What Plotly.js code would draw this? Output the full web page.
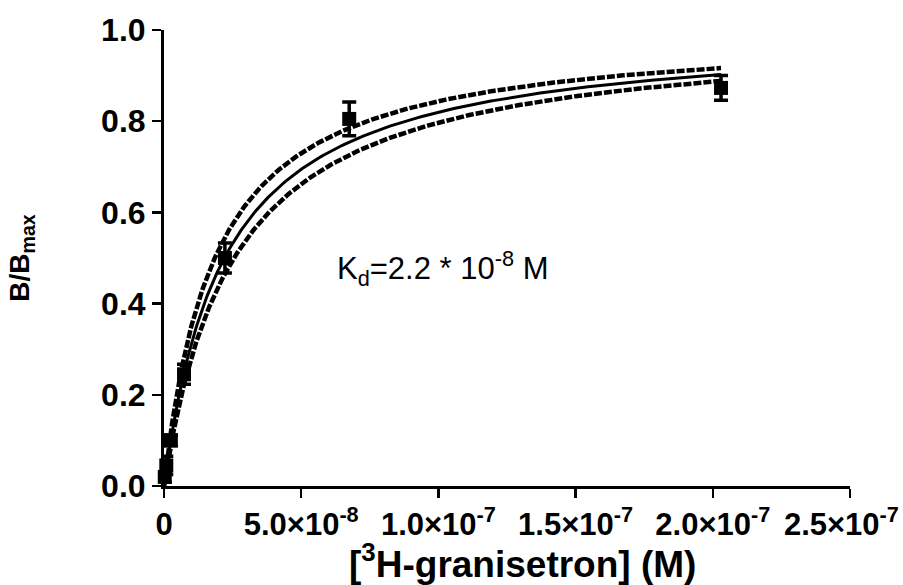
<!DOCTYPE html>
<html>
<head>
<meta charset="utf-8">
<script src="https://cdn.plot.ly/plotly-3.0.1.min.js"></script>
<style>
  html, body { margin: 0; padding: 0; background: #fff; }
  #chart { width: 903px; height: 585px; }
</style>
</head>
<body>
<div id="chart"></div>
<script>
// ---- data ----
const concM   = [2.8e-10, 8.4e-10, 2.5e-9, 7.3e-9, 2.22e-8, 6.75e-8, 2.03e-7]; // [3H-granisetron] (M)
const bOverBmax = [0.02, 0.045, 0.10, 0.245, 0.50, 0.805, 0.873];
const semErr  = [0.012, 0.02, 0.012, 0.022, 0.033, 0.037, 0.027];

// fitted one-site hyperbola and its confidence band (Kd values in M)
const KD_FIT  = 2.2e-8;
const KD_UPPER = 1.85e-8;
const KD_LOWER = 2.55e-8;

const xTickVals = [0, 5e-8, 1e-7, 1.5e-7, 2e-7, 2.5e-7];
const xTickText = ['0', '5.0×10<sup>-8</sup>', '1.0×10<sup>-7</sup>', '1.5×10<sup>-7</sup>', '2.0×10<sup>-7</sup>', '2.5×10<sup>-7</sup>'];
const yTickVals = [0, 0.2, 0.4, 0.6, 0.8, 1.0];
const yTickText = ['0.0', '0.2', '0.4', '0.6', '0.8', '1.0'];

// ---- fitted curves built from the model ----
function hyperbola(kd) {
  const xs = [], ys = [];
  const xmax = concM[concM.length - 1];
  const n = 300;
  for (let i = 0; i <= n; i++) {
    const x = xmax * Math.pow(i / n, 1.6);
    xs.push(x);
    ys.push(x / (kd + x));
  }
  return {x: xs, y: ys};
}
const cFit = hyperbola(KD_FIT), cUp = hyperbola(KD_UPPER), cLo = hyperbola(KD_LOWER);

// last tick label sits slightly inward (as in the reference) so it stays inside the figure
const xTickTextShown = xTickText.map((t, i) => i === xTickText.length - 1 ? t + '\u00a0\u00a0' : t);

const FONT = '"Liberation Sans", Arial, sans-serif';

const traces = [
  {x: cUp.x, y: cUp.y, mode: 'lines', line: {color: '#000', width: 4.5, dash: '8px,2px'}, hoverinfo: 'skip', showlegend: false},
  {x: cLo.x, y: cLo.y, mode: 'lines', line: {color: '#000', width: 4.5, dash: '8px,2px'}, hoverinfo: 'skip', showlegend: false},
  {x: cFit.x, y: cFit.y, mode: 'lines', line: {color: '#000', width: 3}, hoverinfo: 'skip', showlegend: false},
  {x: concM, y: bOverBmax, mode: 'markers',
   marker: {symbol: 'square', size: 14, color: '#000'},
   error_y: {type: 'data', array: semErr, visible: true, color: '#000', thickness: 3.5, width: 7},
   cliponaxis: false, showlegend: false}
];

const layout = {
  width: 903, height: 585,
  margin: {l: 164, r: 53, t: 30, b: 99},
  paper_bgcolor: '#fff', plot_bgcolor: '#fff',
  showlegend: false,
  font: {family: FONT, color: '#000'},
  xaxis: {
    range: [0, 2.5e-7], tickvals: xTickVals, ticktext: xTickTextShown,
    ticklabeloverflow: 'allow',
    showgrid: false, zeroline: false, showline: true, linecolor: '#000', linewidth: 3,
    ticks: 'outside', ticklen: 9, tickwidth: 2.5, tickcolor: '#000',
    tickfont: {family: FONT, size: 31, weight: 'bold'}
  },
  yaxis: {
    range: [0, 1.0], tickvals: yTickVals, ticktext: yTickText,
    showgrid: false, zeroline: false, showline: true, linecolor: '#000', linewidth: 3,
    ticks: 'outside', ticklen: 9, tickwidth: 2.5, tickcolor: '#000',
    tickfont: {family: FONT, size: 32, weight: 'bold'},
    title: {text: 'B/B<sub>max</sub>', font: {family: FONT, size: 28, weight: 'bold'}, standoff: 64}
  },
  annotations: [
    {
      x: 6.23e-8, y: 0.478, xref: 'x', yref: 'y', xanchor: 'left', yanchor: 'middle',
      text: 'K<sub>d</sub>=2.2 * 10<sup>-8</sup> M', showarrow: false,
      font: {family: FONT, size: 31, color: '#000'}
    },
    {
      x: 0.522, y: 0, xref: 'paper', yref: 'paper', xanchor: 'center', yanchor: 'middle', yshift: -75,
      text: '[<sup>3</sup>H-granisetron] (M)', showarrow: false,
      font: {family: FONT, size: 37, weight: 'bold', color: '#000'}
    }
  ]
};

Plotly.newPlot('chart', traces, layout, {displayModeBar: false, staticPlot: true});
</script>
</body>
</html>
